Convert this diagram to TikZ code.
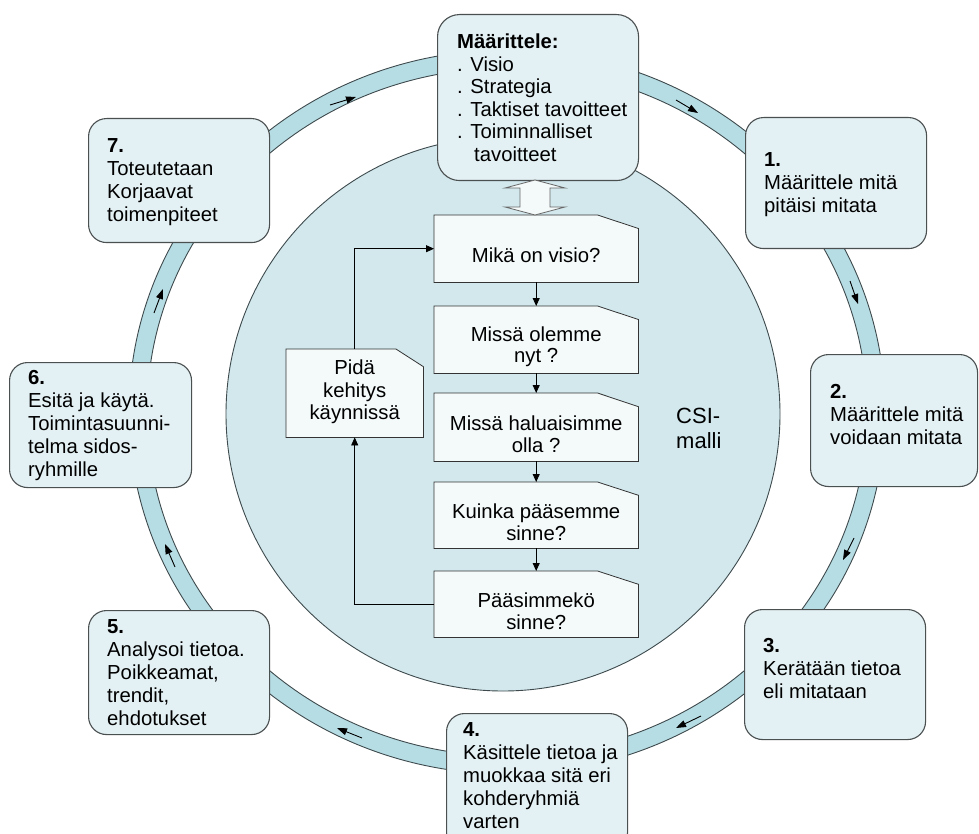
\documentclass[tikz,border=0pt]{standalone}
\usepackage{fontspec}
\setmainfont{Liberation Sans}
\usetikzlibrary{arrows.meta,calc}
\definecolor{ringfill}{HTML}{B7DDE4}
\definecolor{csifill}{HTML}{D2E8ED}
\definecolor{boxfill}{HTML}{E4F1F4}
\definecolor{cardfill}{HTML}{F4F9FA}
\definecolor{ringline}{HTML}{3E4A4D}
\definecolor{boxline}{HTML}{4A4F50}
\pgfdeclarelayer{back}
\pgfdeclarelayer{cardbg}
\pgfsetlayers{back,cardbg,main}
\newcommand\bxfont{\fontsize{20.3}{23}\selectfont}
\newcommand\tpfont{\fontsize{20.3}{22.5}\selectfont}
\newcommand\cdfont{\fontsize{20.3}{21.5}\selectfont}
\newcommand\csifont{\fontsize{22}{25}\selectfont}
\tikzset{
  rbox/.style={draw=boxline, line width=1.1pt, fill=boxfill, rounded corners=18pt,
    anchor=north west, inner sep=0pt},
  btext/.style={anchor=west, align=left, inner sep=0pt, font=\bxfont},
  card/.style={rectangle, inner sep=0pt, anchor=north west},
  cardshape/.style={draw=black!80, line width=0.8pt, fill=cardfill},
  ctext/.style={align=center, inner sep=0pt, font=\cdfont},
  flow/.style={draw=black, line width=0.8pt, -{Triangle[length=8pt,width=7pt]}},
  ringarr/.style={draw=black, line width=0.9pt, -{Triangle[length=10pt,width=7pt]}},
  ringedge/.style={draw=ringline, line width=0.9pt},
}
\begin{document}
\begin{tikzpicture}[x=1pt,y=-1pt]
\useasboundingbox (0,0) rectangle (979,834);
\clip (0,0) rectangle (979,834);

% background ring and CSI circle
\begin{pgfonlayer}{back}
\fill[white] (0,0) rectangle (979,834);
\fill[ringfill, even odd rule] (507,412) ellipse [x radius=378pt, y radius=362pt]
     (507,412) ellipse [x radius=360pt, y radius=344pt];
\draw[ringedge] (507,412) ellipse [x radius=378pt, y radius=362pt];
\draw[ringedge] (507,412) ellipse [x radius=360pt, y radius=344pt];
\draw[draw=ringline, line width=0.9pt, fill=csifill] (503,414) circle [radius=277pt];
\end{pgfonlayer}

% ring arrows
\draw[ringarr] (330,105) -- (356,97);
\draw[ringarr] (676,100) -- (698,113);
\draw[ringarr] (850,281) -- (858,304);
\draw[ringarr] (854,538) -- (843,560);
\draw[ringarr] (701,716) -- (676,728);
\draw[ringarr] (362,738) -- (337,728);
\draw[ringarr] (175,567) -- (165,544);
\draw[ringarr] (154,313) -- (163,289);

% rounded boxes around the ring
\node[rbox, rounded corners=22pt, minimum width=201pt, minimum height=166pt] (top) at (437,14) {};
\node[btext, font=\tpfont] (topt) at ([xshift=20pt]top.west)
  {\textbf{Määrittele:}\\. Visio\\. Strategia\\. Taktiset tavoitteet\\. Toiminnalliset\\\hspace*{17pt}tavoitteet};

\node[rbox, minimum width=181pt, minimum height=131pt] (b1) at (745,117) {};
\node[btext] (b1t) at ([xshift=19pt,yshift=-2pt]b1.west)
  {\textbf{1.}\\Määrittele mitä\\pitäisi mitata};

\node[rbox, minimum width=167pt, minimum height=132pt] (b2) at (810,354) {};
\node[btext] (b2t) at ([xshift=20pt,yshift=6pt]b2.west)
  {\textbf{2.}\\Määrittele mitä\\voidaan mitata};

\node[rbox, minimum width=181pt, minimum height=130pt] (b3) at (744,609) {};
\node[btext] (b3t) at ([xshift=19pt,yshift=6pt]b3.west)
  {\textbf{3.}\\Kerätään tietoa\\eli mitataan};

\node[rbox, minimum width=181pt, minimum height=137pt] (b4) at (446,713) {};
\node[btext] (b4t) at ([xshift=17pt,yshift=6pt]b4.west)
  {\textbf{4.}\\Käsittele tietoa ja\\muokkaa sitä eri\\kohderyhmiä\\varten};

\node[rbox, minimum width=181pt, minimum height=124pt] (b5) at (88,610) {};
\node[btext] (b5t) at ([xshift=19pt]b5.west)
  {\textbf{5.}\\Analysoi tietoa.\\Poikkeamat,\\trendit,\\ehdotukset};

\node[rbox, minimum width=182pt, minimum height=125pt] (b6) at (9,362) {};
\node[btext] (b6t) at ([xshift=19pt]b6.west)
  {\textbf{6.}\\Esitä ja käytä.\\Toimintasuunni-\\telma sidos-\\ryhmille};

\node[rbox, minimum width=181pt, minimum height=124pt] (b7) at (88,118) {};
\node[btext] (b7t) at ([xshift=19pt,yshift=-2pt]b7.west)
  {\textbf{7.}\\Toteutetaan\\Korjaavat\\toimenpiteet};

% flowchart cards
\node[card, minimum width=204pt, minimum height=67pt] (c1) at (434,215) {};
\node[card, minimum width=204pt, minimum height=67pt] (c2) at (434,306) {};
\node[card, minimum width=204pt, minimum height=68pt] (c3) at (434,393) {};
\node[card, minimum width=204pt, minimum height=66pt] (c4) at (434,482) {};
\node[card, minimum width=204pt, minimum height=66pt] (c5) at (434,571) {};
\node[card, minimum width=137pt, minimum height=88pt] (pk) at (286,349) {};

\begin{pgfonlayer}{cardbg}
\foreach \n in {c1,c2,c3,c4,c5,pk}{
  \draw[cardshape] (\n.south west) -- (\n.north west)
    -- ($(\n.north west)!0.8!(\n.north east)$)
    -- ($(\n.north east)!0.2!(\n.south east)$)
    -- (\n.south east) -- cycle;
}
\end{pgfonlayer}

\node[ctext] (c1t) at ([yshift=-7pt]c1.center) {Mikä on visio?};
\node[ctext] (c2t) at ([yshift=-7pt]c2.center) {Missä olemme\\nyt ?};
\node[ctext] (c3t) at ([yshift=-7pt]c3.center) {Missä haluaisimme\\olla ?};
\node[ctext] (c4t) at ([yshift=-7pt]c4.center) {Kuinka pääsemme\\sinne?};
\node[ctext] (c5t) at ([yshift=-7pt]c5.center) {Pääsimmekö\\sinne?};
\node[ctext, font=\fontsize{20.3}{22.5}\selectfont] (pkt) at ([yshift=1pt]pk.center) {Pidä\\kehitys\\käynnissä};

\node[anchor=west, align=left, inner sep=0pt, font=\csifont] (csi) at (676,428) {CSI-\\malli};

% flowchart connectors
\draw[flow] (c1.south) -- (c2.north);
\draw[flow] (c2.south) -- (c3.north);
\draw[flow] (c3.south) -- (c4.north);
\draw[flow] (c4.south) -- (c5.north);
\draw[flow] (c5.west) -| (pk.south);
\draw[flow] (pk.north) |- (c1.west);

% hollow double arrow between top box and first card
\draw[draw=black!60, line width=0.8pt, fill=cardfill]
  (535,180) -- (565,188) -- (550,188) -- (550,207) -- (565,207) -- (535,215)
  -- (505,207) -- (520,207) -- (520,188) -- (505,188) -- cycle;
\end{tikzpicture}
\end{document}
